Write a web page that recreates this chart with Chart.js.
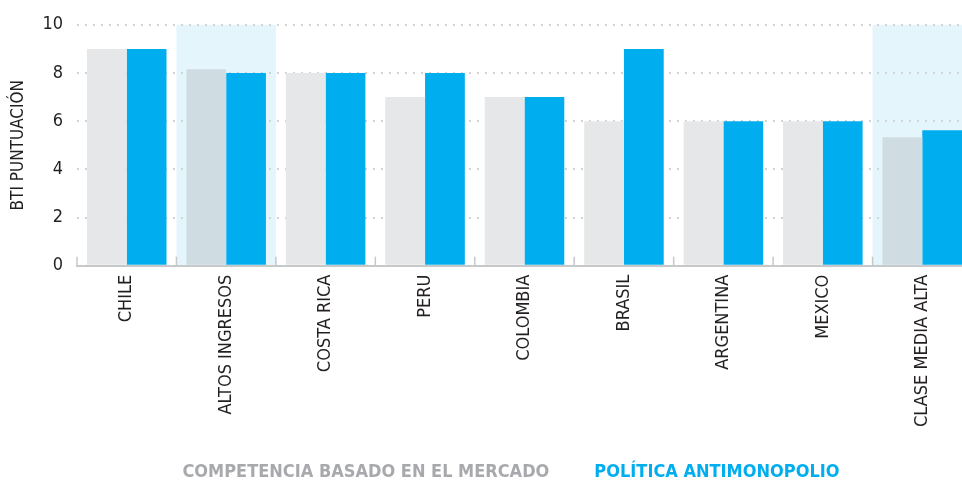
<!DOCTYPE html>
<html>
<head>
<meta charset="utf-8">
<script src="https://cdn.jsdelivr.net/npm/chart.js@4/dist/chart.umd.min.js"></script>
<style>
  html, body { margin: 0; padding: 0; background: #fff; overflow: hidden; }
  #wrap { width: 972px; height: 491px; }
</style>
</head>
<body>
<div id="wrap"><canvas id="myChart"></canvas></div>
<script>
const categories = ['CHILE', 'ALTOS INGRESOS', 'COSTA RICA', 'PERU', 'COLOMBIA', 'BRASIL', 'ARGENTINA', 'MEXICO', 'CLASE MEDIA ALTA'];
const competencia = [9, 8.15, 8, 7, 7, 6, 6, 6, 5.33];
const antimonopolio = [9, 8, 8, 8, 7, 9, 6, 6, 5.62];
const highlighted = ['ALTOS INGRESOS', 'CLASE MEDIA ALTA'];
const yTicks = [0, 2, 4, 6, 8, 10];

const FONT = '"Liberation Sans Narrow", "DejaVu Sans Condensed", "Roboto Condensed", sans-serif';
const GRAY = '#e6e7e8';
const GRAY_HL = '#cfdde3';
const BLUE = '#00aeef';
const BAND = '#e5f5fc';

// light blue band behind the aggregate groups + small category ticks on the axis
const bands = {
    id: 'bands',
    beforeDraw(chart) {
        const x = chart.scales.x, y = chart.scales.y, c = chart.ctx;
        const w = x.getPixelForValue(1) - x.getPixelForValue(0);
        c.save();
        c.fillStyle = BAND;
        categories.forEach((cat, i) => {
            if (!highlighted.includes(cat)) return;
            const cx = x.getPixelForValue(i);
            c.fillRect(cx - w / 2, y.getPixelForValue(10), w, y.getPixelForValue(0) - y.getPixelForValue(10));
        });
        c.restore();
    },
    beforeDatasetsDraw(chart) {
        const x = chart.scales.x, y = chart.scales.y, c = chart.ctx;
        const w = x.getPixelForValue(1) - x.getPixelForValue(0);
        const y0 = y.getPixelForValue(0);
        c.save();
        c.strokeStyle = '#c7c8ca';
        c.lineWidth = 1.5;
        for (let i = 0; i <= categories.length; i++) {
            const bx = x.getPixelForValue(0) - w / 2 + i * w;
            c.beginPath();
            c.moveTo(bx, y0 - 9);
            c.lineTo(bx, y0);
            c.stroke();
        }
        c.restore();
    }
};

const ctx = document.getElementById('myChart').getContext('2d');
const myChart = new Chart(ctx, {
    type: 'bar',
    data: {
        labels: categories,
        datasets: [{
            label: 'COMPETENCIA BASADO EN EL MERCADO',
            data: competencia,
            backgroundColor: categories.map(c => highlighted.includes(c) ? GRAY_HL : GRAY),
            borderWidth: 0
        }, {
            label: 'POLÍTICA ANTIMONOPOLIO',
            data: antimonopolio,
            backgroundColor: BLUE,
            borderWidth: 0
        }]
    },
    plugins: [bands],
    options: {
        responsive: true,
        maintainAspectRatio: false,
        animation: false,
        categoryPercentage: 0.8,
        barPercentage: 1,
        layout: { padding: { top: 12, left: 8, right: 0, bottom: 0 } },
        plugins: {
            tooltip: { enabled: false },
            legend: {
                position: 'bottom',
                labels: {
                    boxWidth: 33,
                    boxHeight: 0,
                    padding: 3,
                    font: { family: FONT, size: 18, weight: 'bold' },
                    generateLabels(chart) {
                        return chart.data.datasets.map((ds, i) => ({
                            text: ds.label,
                            fontColor: i === 0 ? '#a7a9ac' : BLUE,
                            fillStyle: 'rgba(0,0,0,0)',
                            strokeStyle: 'rgba(0,0,0,0)',
                            lineWidth: 0,
                            datasetIndex: i
                        }));
                    }
                }
            }
        },
        scales: {
            x: {
                grid: { display: false },
                border: { display: true, color: '#c7c8ca', width: 2 },
                ticks: {
                    color: '#231f20',
                    font: { family: FONT, size: 18 },
                    minRotation: 90,
                    maxRotation: 90,
                    padding: 1,
                    autoSkip: false
                },
                afterFit(axis) {
                    axis.height += 32;
                }
            },
            y: {
                min: 0,
                max: 10,
                afterBuildTicks(axis) {
                    axis.ticks = yTicks.map(v => ({ value: v }));
                },
                border: { display: false, dash: [2, 6] },
                grid: {
                    color: ctx => ctx.tick && ctx.tick.value === 0 ? 'rgba(0,0,0,0)' : '#d1d3d4',
                    lineWidth: 2,
                    drawTicks: false
                },
                ticks: {
                    color: '#231f20',
                    font: { family: FONT, size: 18 },
                    padding: 14
                },
                title: {
                    display: true,
                    text: 'BTI PUNTUACIÓN',
                    color: '#231f20',
                    font: { family: FONT, size: 17 },
                    padding: { top: 0, bottom: 0 }
                }
            }
        }
    }
});
</script>
</body>
</html>
